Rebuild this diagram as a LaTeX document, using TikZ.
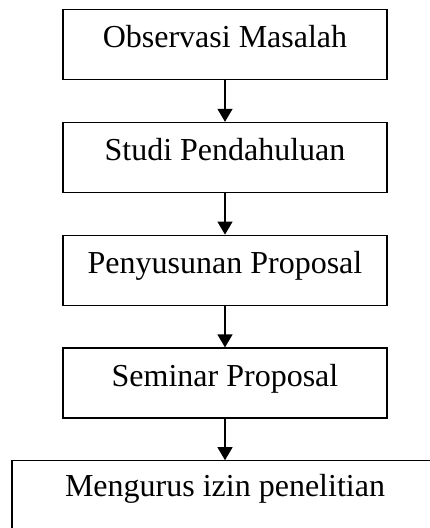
\documentclass[tikz,border=0pt]{standalone}
\usepackage{fontspec}
\setmainfont{Liberation Serif}
\usetikzlibrary{positioning, arrows.meta}

\tikzset{
    stepbox/.style={draw, line width=1.3pt, inner sep=0pt, minimum width=324pt,
        text height=38pt, text depth=32pt, font=\fontsize{32}{38}\selectfont},
    flow/.style={line width=1.3pt, -{Triangle[length=13pt, width=15pt]}}
}

\begin{document}
\begin{tikzpicture}[node distance=41.5pt]
    %\draw[help lines, step=10pt] (0, 0) grid (430pt, 528pt);
    \clip (0, 0) rectangle (430pt, 528pt);

    \node[stepbox, anchor=north] at (225pt, 519pt) (obs) {Observasi Masalah};
    \node[stepbox, below=of obs] (stu) {Studi Pendahuluan};
    \node[stepbox, below=of stu] (pen) {Penyusunan Proposal};
    \node[stepbox, below=of pen] (sem) {Seminar Proposal};
    \node[stepbox, below=of sem, minimum width=426pt, text height=36pt, text depth=60pt] (izin) {Mengurus izin penelitian};

    \draw[flow] (obs) -- (stu);
    \draw[flow] (stu) -- (pen);
    \draw[flow] (pen) -- (sem);
    \draw[flow] (sem) -- (izin);

\end{tikzpicture}
\end{document}
